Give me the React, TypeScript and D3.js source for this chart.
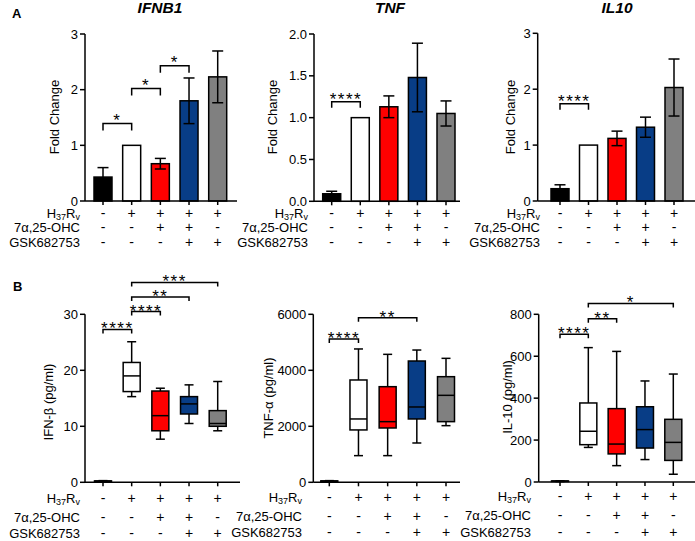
import React from "react";
import * as d3 from "d3";

const categories = ["Ctrl", "H37Rv", "H37Rv+OHC", "H37Rv+OHC+GSK", "H37Rv+GSK"];
const colors = ["#000000", "#ffffff", "#ff0000", "#083d86", "#808080"];
const rowH37 = ["-", "+", "+", "+", "+"];
const rowOHC = ["-", "-", "+", "+", "-"];
const rowGSK = ["-", "-", "-", "+", "+"];

const ifnb1Mean = [0.43, 1.0, 0.67, 1.8, 2.23];
const ifnb1Err = [0.17, 0, 0.095, 0.41, 0.465];
const tnfMean = [0.09, 1.0, 1.13, 1.48, 1.05];
const tnfErr = [0.03, 0, 0.13, 0.41, 0.15];
const il10Mean = [0.22, 1.0, 1.12, 1.32, 2.03];
const il10Err = [0.07, 0, 0.13, 0.18, 0.51];

// [min, q1, median, q3, max]
const ifnbBox = [
  [0.1, 0.15, 0.2, 0.25, 0.3],
  [15.3, 16.2, 19.0, 21.4, 25.1],
  [7.7, 9.2, 11.9, 16.3, 16.8],
  [10.5, 12.2, 14.0, 15.3, 17.4],
  [9.2, 10.0, 10.5, 12.8, 18.0],
];
const tnfBox = [
  [20, 30, 40, 50, 60],
  [952, 1870, 2262, 3654, 4762],
  [952, 1940, 2166, 3415, 4570],
  [1404, 2262, 2690, 4332, 4724],
  [2023, 2166, 3106, 3772, 4427],
];
const il10Box = [
  [2, 3, 4, 5, 6],
  [165, 178, 242, 377, 641],
  [78, 134, 181, 350, 623],
  [107, 162, 250, 359, 482],
  [37, 103, 189, 299, 515],
];

// [from, to, value, label]
const sigIfnb1: [number, number, number, string][] = [[0, 1, 1.39, "*"], [1, 2, 2.02, "*"], [2, 3, 2.43, "*"]];
const sigTnf: [number, number, number, string][] = [[0, 1, 1.19, "****"]];
const sigIl10: [number, number, number, string][] = [[0, 1, 1.74, "****"]];
const sigIfnbB: [number, number, number, string][] = [[0, 1, 27.3, "****"], [1, 2, 30.5, "****"], [1, 3, 33.1, "**"], [1, 4, 35.7, "***"]];
const sigTnfB: [number, number, number, string][] = [[0, 1, 5117, "****"], [1, 3, 5879, "**"]];
const sigIl10B: [number, number, number, string][] = [[0, 1, 705, "****"], [1, 2, 779, "**"], [1, 4, 852, "*"]];

const FONT = "'Liberation Sans', Arial, sans-serif";

type PanelProps = {
  axisX: number;
  axisEnd: number;
  yTop: number;
  y0: number;
  domainMax: number;
  ticks: number[];
  fmt: (v: number) => string;
  firstC: number;
  lastC: number;
  title?: string;
  titleX?: number;
  yLabel: React.ReactNode;
  yLabelX: number;
  yLabelY: number;
  labelX: number;
  rowY: number[];
  mean?: number[];
  err?: number[];
  box?: number[][];
  sig: [number, number, number, string][];
  legLen: number;
  starDy: number;
};

function Panel(p: PanelProps) {
  const y = d3.scaleLinear().domain([0, p.domainMax]).range([p.y0, p.yTop]);
  const x = d3.scalePoint<string>().domain(categories).range([p.firstC, p.lastC]);
  const sw = 1.5;
  const barW = 18;
  const boxW = 17;
  const capW = 11;
  const wCap = 9;
  const rows = [rowH37, rowOHC, rowGSK];
  return (
    <g>
      {p.title && (
        <text x={p.titleX} y={13} textAnchor="middle" fontWeight="bold" fontStyle="italic" fontSize={15.5}>
          {p.title}
        </text>
      )}
      {p.mean &&
        p.mean.map((m, i) => {
          const cx = x(categories[i])!;
          const e = p.err![i];
          return (
            <g key={"b" + i}>
              <rect x={cx - barW / 2} y={y(m)} width={barW} height={p.y0 - y(m)} fill={colors[i]} stroke="#000" strokeWidth={sw} />
              {e > 0 && (
                <g stroke="#000" strokeWidth={sw}>
                  <line x1={cx} x2={cx} y1={y(m - e)} y2={y(m + e)} />
                  <line x1={cx - capW / 2} x2={cx + capW / 2} y1={y(m + e)} y2={y(m + e)} />
                  <line x1={cx - capW / 2} x2={cx + capW / 2} y1={y(m - e)} y2={y(m - e)} />
                </g>
              )}
            </g>
          );
        })}
      {p.box &&
        p.box.map((b, i) => {
          const cx = x(categories[i])!;
          const [mn, q1, md, q3, mx] = b;
          return (
            <g key={"x" + i} stroke="#000" strokeWidth={sw}>
              <line x1={cx} x2={cx} y1={y(mx)} y2={y(q3)} />
              <line x1={cx} x2={cx} y1={y(q1)} y2={y(mn)} />
              <line x1={cx - wCap / 2} x2={cx + wCap / 2} y1={y(mx)} y2={y(mx)} />
              <line x1={cx - wCap / 2} x2={cx + wCap / 2} y1={y(mn)} y2={y(mn)} />
              <rect x={cx - boxW / 2} y={y(q3)} width={boxW} height={Math.max(0.5, y(q1) - y(q3))} fill={colors[i]} />
              <line x1={cx - boxW / 2} x2={cx + boxW / 2} y1={y(md)} y2={y(md)} />
            </g>
          );
        })}
      <g stroke="#000" strokeWidth={sw}>
        <line x1={p.axisX} x2={p.axisX} y1={p.yTop} y2={p.y0} />
        <line x1={p.axisX} x2={p.axisEnd} y1={p.y0} y2={p.y0} />
        {p.ticks.map((t) => (
          <line key={"t" + t} x1={p.axisX - 5} x2={p.axisX} y1={y(t)} y2={y(t)} />
        ))}
        {categories.map((c) => (
          <line key={"c" + c} x1={x(c)!} x2={x(c)!} y1={p.y0} y2={p.y0 + 4} />
        ))}
      </g>
      {p.ticks.map((t) => (
        <text key={"l" + t} x={p.axisX - 7} y={y(t)} dy="0.35em" textAnchor="end" fontSize={13}>
          {p.fmt(t)}
        </text>
      ))}
      <text transform={`translate(${p.yLabelX},${p.yLabelY}) rotate(-90)`} textAnchor="middle" dy="0.35em" fontSize={13}>
        {p.yLabel}
      </text>
      {p.sig.map(([a, b, v, lab], k) => {
        const x1 = x(categories[a])!;
        const x2 = x(categories[b])!;
        const yy = y(v);
        return (
          <g key={"s" + k}>
            <path d={`M${x1},${yy + p.legLen}V${yy}H${x2}V${yy + p.legLen}`} fill="none" stroke="#000" strokeWidth={sw} />
            <text x={(x1 + x2) / 2} y={yy + p.starDy} textAnchor="middle" fontSize={17} letterSpacing={1.5}>
              {lab}
            </text>
          </g>
        );
      })}
      <text x={p.labelX} y={p.rowY[0]} dy="0.35em" textAnchor="end" fontSize={13}>
        H<tspan fontSize={9} dy="2">37</tspan>
        <tspan dy="-2">R</tspan>
        <tspan fontSize={9} dy="2">v</tspan>
      </text>
      <text x={p.labelX} y={p.rowY[1]} dy="0.35em" textAnchor="end" fontSize={13}>
        7α,25-OHC
      </text>
      <text x={p.labelX} y={p.rowY[2]} dy="0.35em" textAnchor="end" fontSize={13}>
        GSK682753
      </text>
      {rows.map((r, ri) =>
        r.map((s, i) => (
          <text key={`r${ri}-${i}`} x={x(categories[i])!} y={p.rowY[ri]} dy="0.35em" textAnchor="middle" fontSize={14}>
            {s}
          </text>
        ))
      )}
    </g>
  );
}

const f0 = (v: number) => d3.format("d")(v);
const f1 = (v: number) => d3.format(".1f")(v);

export default function App() {
  return (
    <svg width={695} height={541} style={{ position: "absolute", left: 0, top: 0, fontFamily: FONT }}>
      <rect width={695} height={541} fill="#fff" />
      <text x={12} y={18} fontWeight="bold" fontSize={13}>A</text>
      <text x={13} y={291} fontWeight="bold" fontSize={13}>B</text>
      <Panel axisX={85} axisEnd={237} yTop={34} y0={201} domainMax={3} ticks={[0, 1, 2, 3]} fmt={f0}
        firstC={103} lastC={217.7} title="IFNB1" titleX={160} yLabel="Fold Change" yLabelX={54} yLabelY={117}
        labelX={80} rowY={[213, 227, 242]} mean={ifnb1Mean} err={ifnb1Err} sig={sigIfnb1} legLen={7} starDy={2} />
      <Panel axisX={314} axisEnd={460} yTop={34} y0={201.3} domainMax={2} ticks={[0, 0.5, 1, 1.5, 2]} fmt={f1}
        firstC={331.7} lastC={446} title="TNF" titleX={390} yLabel="Fold Change" yLabelX={272} yLabelY={117}
        labelX={308} rowY={[213, 227, 242]} mean={tnfMean} err={tnfErr} sig={sigTnf} legLen={6} starDy={3} />
      <Panel axisX={537.7} axisEnd={695} yTop={33.3} y0={201} domainMax={3} ticks={[0, 1, 2, 3]} fmt={f0}
        firstC={560} lastC={674} title="IL10" titleX={617} yLabel="Fold Change" yLabelX={510} yLabelY={117}
        labelX={540} rowY={[213, 227, 242]} mean={il10Mean} err={il10Err} sig={sigIl10} legLen={6} starDy={3} />
      <Panel axisX={85} axisEnd={240} yTop={314.3} y0={482.3} domainMax={30} ticks={[0, 10, 20, 30]} fmt={f0}
        firstC={103} lastC={217.7} yLabel="IFN-β (pg/ml)" yLabelX={48} yLabelY={402}
        labelX={80} rowY={[498, 517, 533]} box={ifnbBox} sig={sigIfnbB} legLen={4} starDy={5} />
      <Panel axisX={313.3} axisEnd={460} yTop={314.3} y0={482.3} domainMax={6000} ticks={[0, 2000, 4000, 6000]} fmt={f0}
        firstC={329.3} lastC={446} yLabel="TNF-α (pg/ml)" yLabelX={268} yLabelY={398}
        labelX={302} rowY={[497, 516, 532]} box={tnfBox} sig={sigTnfB} legLen={4} starDy={5} />
      <Panel axisX={538.7} axisEnd={695} yTop={314.3} y0={482} domainMax={800} ticks={[0, 200, 400, 600, 800]} fmt={f0}
        firstC={560} lastC={673.3} yLabel="IL-10 (pg/ml)" yLabelX={507} yLabelY={397}
        labelX={531} rowY={[496, 515, 532]} box={il10Box} sig={sigIl10B} legLen={4} starDy={5} />
    </svg>
  );
}
